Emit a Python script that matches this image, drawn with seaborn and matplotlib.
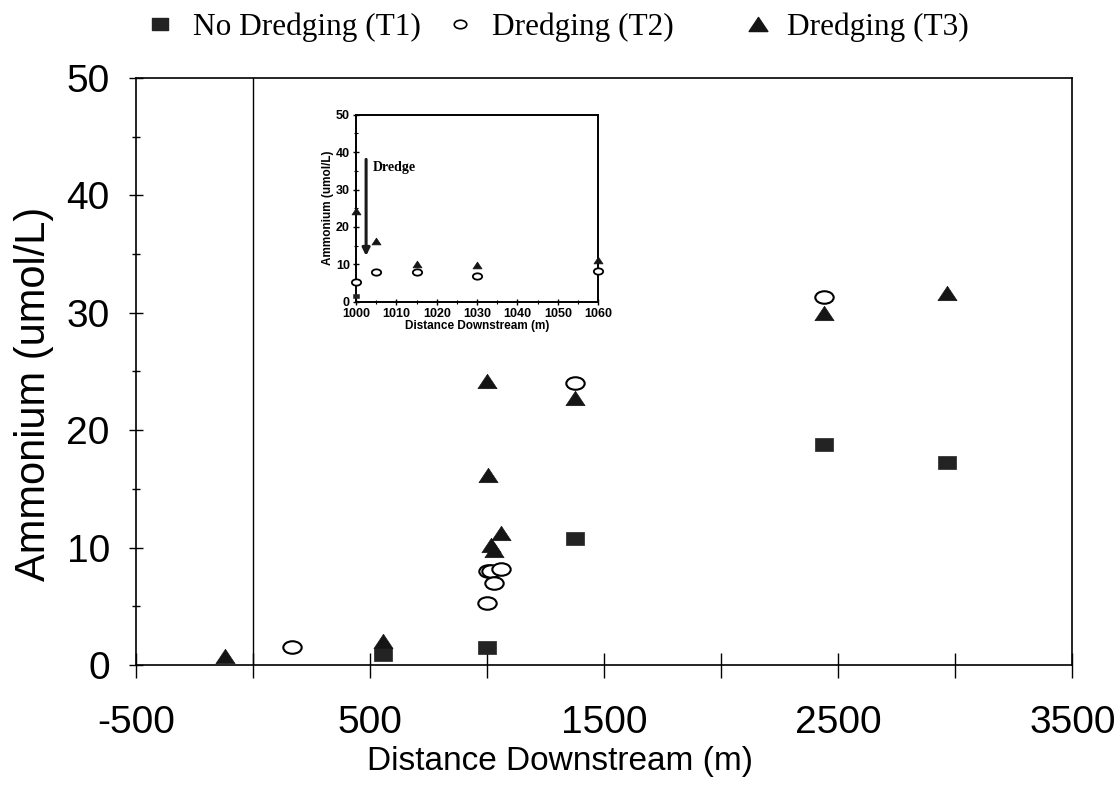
import numpy as np
import pandas as pd
import matplotlib
matplotlib.use("Agg")
import matplotlib.pyplot as plt
from matplotlib.lines import Line2D
from matplotlib.path import Path
from matplotlib.transforms import Affine2D
import seaborn as sns

# ---- data ----
t1_x = [555, 1000, 1375, 2440, 2965]
t1_y = [0.9, 1.5, 10.8, 18.8, 17.3]

t2_x = [165, 1000, 1005, 1015, 1030, 1060, 1375, 2440]
t2_y = [1.5, 5.3, 8.0, 8.0, 7.0, 8.2, 24.0, 31.3]

t3_x = [-120, 555, 1000, 1005, 1015, 1030, 1060, 1375, 2440, 2965]
t3_y = [0.8, 2.0, 24.2, 16.2, 10.2, 9.8, 11.2, 22.7, 30.0, 31.7]

labels = ["No Dredging (T1)", "Dredging (T2)", "Dredging (T3)"]
x_ticks = [-500, 0, 500, 1000, 1500, 2000, 2500, 3000, 3500]
x_ticklabels = ["-500", "", "500", "", "1500", "", "2500", "", "3500"]
y_ticks = [0, 10, 20, 30, 40, 50]
y_minor = [5, 15, 25, 35, 45]
inset_xticks = [1000, 1010, 1020, 1030, 1040, 1050, 1060]
inset_xminor = [1005, 1015, 1025, 1035, 1045, 1055]

df1 = pd.DataFrame({"x": t1_x, "y": t1_y})
df2 = pd.DataFrame({"x": t2_x, "y": t2_y})
df3 = pd.DataFrame({"x": t3_x, "y": t3_y})

sns.set_style("ticks")
plt.rcParams["font.family"] = ["Liberation Sans", "DejaVu Sans"]
for k in ["text.color", "axes.labelcolor", "xtick.color", "ytick.color", "axes.edgecolor"]:
    plt.rcParams[k] = "black"

# slightly flattened marker shapes, as in the scanned original
rect_m = Path([(-1, -0.72), (1, -0.72), (1, 0.72), (-1, 0.72), (-1, -0.72)], closed=True)
tri_m = Path([(0, 0.75), (-1, -0.75), (1, -0.75), (0, 0.75)], closed=True)
ell_m = Path.unit_circle().transformed(Affine2D().scale(1.0, 0.68))

fig = plt.figure(figsize=(11.16, 7.94), dpi=100)
ax = fig.add_axes([0.122, 0.1625, 0.839, 0.7395])

sns.scatterplot(data=df1, x="x", y="y", ax=ax, legend=False, marker=rect_m, s=169,
                color="#232323", edgecolor="#232323", linewidth=0.5, zorder=3)
sns.scatterplot(data=df2, x="x", y="y", ax=ax, legend=False, marker=ell_m, s=175,
                facecolor="white", edgecolor="black", linewidth=1.5, zorder=4)
sns.scatterplot(data=df3, x="x", y="y", ax=ax, legend=False, marker=tri_m, s=190,
                color="#151515", edgecolor="#151515", linewidth=0.5, zorder=5)

ax.axvline(0, color="black", linewidth=1.0, zorder=1)
ax.set_xlim(-500, 3500)
ax.set_ylim(0, 50)
ax.set_xticks(x_ticks)
ax.set_xticklabels(x_ticklabels)
ax.set_yticks(y_ticks)
ax.set_yticks(y_minor, minor=True)
ax.tick_params(axis="both", which="major", direction="inout", width=1.0,
               labelsize=28, colors="black")
ax.tick_params(axis="x", which="major", length=18, pad=20)
ax.tick_params(axis="y", which="major", length=10, pad=14)
ax.tick_params(axis="y", which="minor", direction="inout", length=6, width=1.0)
for sp in ax.spines.values():
    sp.set_linewidth(1.2)
    sp.set_color("black")
ax.set_xlabel("Distance Downstream (m)", fontsize=24)
ax.set_ylabel("Ammonium (umol/L)", fontsize=30)
ax.xaxis.set_label_coords(0.453, -0.138)
ax.yaxis.set_label_coords(-0.0876, 0.462)

# ---- inset ----
ins = fig.add_axes([0.319, 0.620, 0.217, 0.2355])
sns.scatterplot(data=df1, x="x", y="y", ax=ins, legend=False, marker=rect_m, s=24,
                color="#232323", edgecolor="#232323", clip_on=False, zorder=3)
sns.scatterplot(data=df2, x="x", y="y", ax=ins, legend=False, marker=ell_m, s=45,
                facecolor="white", edgecolor="black", linewidth=1.3, clip_on=False, zorder=4)
sns.scatterplot(data=df3, x="x", y="y", ax=ins, legend=False, marker=tri_m, s=42,
                color="#151515", edgecolor="#151515", clip_on=False, zorder=5)
ins.set_xlim(1000, 1060)
ins.set_ylim(0, 50)
ins.set_xticks(inset_xticks)
ins.set_xticks(inset_xminor, minor=True)
ins.set_yticks(y_ticks)
ins.set_yticks(y_minor, minor=True)
ins.tick_params(axis="both", which="major", direction="inout", length=5, width=1.0,
                labelsize=9, pad=2)
ins.tick_params(axis="both", which="minor", direction="inout", length=3, width=0.8)
for lab in ins.get_xticklabels() + ins.get_yticklabels():
    lab.set_fontweight("bold")
for sp in ins.spines.values():
    sp.set_linewidth(1.4)
ins.set_xlabel("Distance Downstream (m)", fontsize=8.5, fontweight="bold", labelpad=0)
ins.set_ylabel("Ammonium (umol/L)", fontsize=8.5, fontweight="bold", labelpad=1)
ins.annotate("", xy=(1002.5, 11.5), xytext=(1002.5, 38.8),
             arrowprops=dict(arrowstyle="-|>", color="#1a1a1a", lw=2.2, mutation_scale=11))
ins.text(1004.2, 35.8, "Dredge", fontsize=10, fontweight="bold",
         family=["Liberation Serif", "DejaVu Serif"], ha="left", va="center")

# ---- legend (three entries, spaced as in the original) ----
handles = [
    Line2D([], [], marker=rect_m, linestyle="none", color="#232323", markersize=11.5),
    Line2D([], [], marker=ell_m, linestyle="none", markerfacecolor="white",
           markeredgecolor="black", markersize=9, markeredgewidth=1.2),
    Line2D([], [], marker=tri_m, linestyle="none", color="#151515", markersize=13.5),
]
leg_x = [0.1294, 0.3982, 0.6652]
leg_pad = [0.557, 0.525, 0.43]
for h, lab, lx, lp in zip(handles, labels, leg_x, leg_pad):
    lg = fig.legend([h], [lab], loc="center left", bbox_to_anchor=(lx, 0.966),
                    frameon=False, borderpad=0, borderaxespad=0, handlelength=1.0,
                    handletextpad=lp,
                    prop={"family": ["Liberation Serif", "DejaVu Serif"], "size": 22.5})

fig.savefig("out.png", dpi=100)
